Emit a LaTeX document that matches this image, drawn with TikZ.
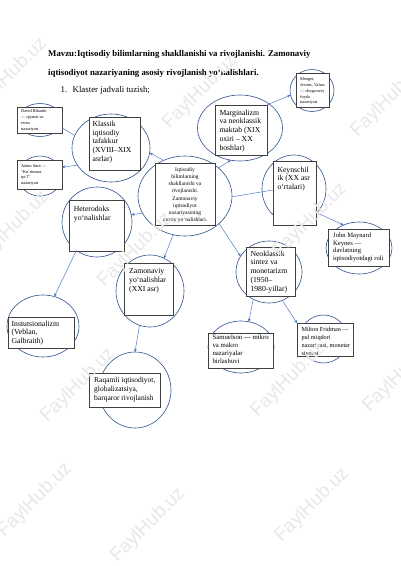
\documentclass[tikz,border=0pt]{standalone}
\usepackage{fontspec}
\setmainfont{Liberation Serif}
\newfontfamily\wmfont{Liberation Sans}
\usetikzlibrary{shapes.geometric,arrows.meta}
\definecolor{ringc}{HTML}{2F528F}
\definecolor{arrc}{HTML}{4472C4}
\begin{document}
\begin{tikzpicture}[x=1pt,y=-1pt,
  ring/.style={ellipse, draw=ringc, line width=0.6pt, inner sep=0pt, outer sep=0pt},
  bx/.style={draw=black!75, line width=0.5pt, fill=white, inner sep=0pt, outer sep=0pt},
  txt/.style={inner sep=0pt, align=left, anchor=north west},
  big/.style={font=\fontsize{7.7}{8.8}\selectfont},
  tiny/.style={font=\fontsize{4.3}{5.9}\selectfont},
  con/.style={draw=arrc, line width=0.45pt, -{Stealth[length=3.2pt,width=2.8pt]}},
  conp/.style={draw=arrc, line width=0.45pt},
  wm/.style={font=\wmfont\fontsize{19}{19}\selectfont, text=gray!18, rotate=45, inner sep=0pt},
  ttl/.style={inner sep=0pt, anchor=base west, font=\bfseries\fontsize{8.8}{10}\selectfont},
  ttn/.style={inner sep=0pt, anchor=base west, font=\fontsize{8.8}{10}\selectfont}]
\fill[white] (0,0) rectangle (400,566);
\useasboundingbox (0,0) rectangle (400,566);

% title
\node[ttl] (t1) at (48,56) {Mavzu:Iqtisodiy bilimlarning shakllanishi va rivojlanishi. Zamonaviy};
\node[ttl] (t2) at (48,75) {iqtisodiyot nazariyaning asosiy rivojlanish yo‘nalishlari.};
\node[ttn] (t3n) at (60.5,92) {1.};
\node[ttn] (t3) at (72.5,92) {Klaster jadvali tuzish;};

% circles
\node[ring, minimum width=94pt, minimum height=80pt] (cen) at (185,196) {};
\node[ring, minimum width=78pt, minimum height=68pt] (kla) at (111,148) {};
\node[ring, minimum width=44pt, minimum height=33pt] (dav) at (40,120) {};
\node[ring, minimum width=44pt, minimum height=40pt] (ada) at (40,176) {};
\node[ring, minimum width=85pt, minimum height=66pt] (mar) at (240,128) {};
\node[ring, minimum width=44pt, minimum height=42pt] (men) at (312,90.5) {};
\node[ring, minimum width=64pt, minimum height=68pt] (key) at (294,189) {};
\node[ring, minimum width=66pt, minimum height=52pt] (kes) at (359,248) {};
\node[ring, minimum width=70pt, minimum height=70pt] (het) at (97,222) {};
\node[ring, minimum width=68pt, minimum height=72pt] (zam) at (150,291) {};
\node[ring, minimum width=72pt, minimum height=62pt] (ins) at (43,326) {};
\node[ring, minimum width=72pt, minimum height=76pt] (raq) at (135,390) {};
\node[ring, minimum width=66pt, minimum height=62pt] (neo) at (269,272) {};
\node[ring, minimum width=66pt, minimum height=52pt] (sam) at (241,347) {};
\node[ring, minimum width=48pt, minimum height=48pt] (mil) at (323.5,339) {};

% boxes
\node[bx, minimum width=60pt, minimum height=62pt] (cenb) at (185,194) {};
\node[bx, minimum width=51pt, minimum height=53pt] (klab) at (114.5,143.5) {};
\node[bx, minimum width=45pt, minimum height=26pt] (davb) at (39.5,120) {};
\node[bx, minimum width=45pt, minimum height=29pt] (adab) at (39.5,174.5) {};
\node[bx, minimum width=52pt, minimum height=50pt] (marb) at (241,130) {};
\node[bx, minimum width=33pt, minimum height=34pt] (menb) at (312.5,90) {};
\node[bx, minimum width=43pt, minimum height=64pt] (keyb) at (294.5,193) {};
\node[bx, minimum width=61pt, minimum height=37pt] (kesb) at (358.5,247.5) {};
\node[bx, minimum width=55pt, minimum height=51pt] (hetb) at (96.5,225.5) {};
\node[bx, minimum width=49pt, minimum height=52pt] (zamb) at (148.5,289) {};
\node[bx, minimum width=66pt, minimum height=31pt] (insb) at (41,332.5) {};
\node[bx, minimum width=71pt, minimum height=34pt] (raqb) at (124.5,390) {};
\node[bx, minimum width=49pt, minimum height=49pt] (neob) at (270.5,271.5) {};
\node[bx, minimum width=65pt, minimum height=35pt] (samb) at (240.5,350.5) {};
\node[bx, minimum width=56pt, minimum height=33pt] (milb) at (325,339.5) {};

% connectors
\draw[con] (cen.121.4) -- (kla.-7.3);
\draw[conp] (kla.161.6) -- (davb.-19.6);
\draw[con] (kla.207.3) -- (adab.18.4);
\draw[con] (cen.40.3) -- (mar.254.7);
\draw[con] (marb.north east) -- (men.192);
\draw[conp] (cen.-1) -- (keyb.172);
\draw[con] (key.-46) -- (kes.124.2);
\draw[con] (cen.202.9) -- (het.12.5);
\draw[con] (cen.253.7) -- (zam.67);
\draw[con] (het.234) -- (ins.69.4);
\draw[con] (zam.253.4) -- (raq.90);
\draw[con] (cen.-39.3) -- (neo.151.3);
\draw[con] (neo.240.3) -- (sam.73.3);
\draw[con] (neo.-65) -- (milb.north west);

% texts
\node[inner sep=0pt, align=center, anchor=north, font=\fontsize{5.5}{7.2}\selectfont] (cent) at ([shift={(0,4.2)}]cenb.north) {Iqtisodiy\\bilimlarning\\shakllanishi va\\rivojlanishi.\\Zamonaviy\\iqtisodiyot\\nazariyasining\\asosiy yo‘nalishlari.};
\node[txt, big] (klat) at ([shift={(3.4,3.8)}]klab.north west) {Klassik\\iqtisodiy\\tafakkur\\(XVIII–XIX\\asrlar)};
\node[txt, tiny] (davt) at ([shift={(4,2.6)}]davb.north west) {David Rikardo\\— qiymat va\\renta\\nazariyasi};
\node[txt, tiny] (adat) at ([shift={(4,4)}]adab.north west) {Adam Smit —\\“Ko‘rinmas\\qo‘l”\\nazariyasi};
\node[txt, big] (mart) at ([shift={(4.3,4.5)}]marb.north west) {Marginalizm\\va neoklassik\\maktab (XIX\\oxiri – XX\\boshlar)};
\node[txt, tiny] (ment) at ([shift={(4,4.3)}]menb.north west) {Menger,\\Jevons, Valras\\— chegaraviy\\foyda\\nazariyasi};
\node[txt, big] (keyt) at ([shift={(4.3,5.5)}]keyb.north west) {Keynschil\\ik (XX asr\\o‘rtalari)};
\node[txt, font=\fontsize{6.6}{7.7}\selectfont] (kest) at ([shift={(5,3.8)}]kesb.north west) {John Maynard\\Keynes —\\davlatning\\iqtisodiyotdagi roli};
\node[txt, big] (hett) at ([shift={(4.7,5.8)}]hetb.north west) {Heterodoks\\yo‘nalishlar};
\node[txt, big] (zamt) at ([shift={(5,5.5)}]zamb.north west) {Zamonaviy\\yo‘nalishlar\\(XXI asr)};
\node[txt, big] (inst) at ([shift={(3.4,3.5)}]insb.north west) {Instutsionalizm\\(Veblan,\\Galbraith)};
\node[txt, font=\fontsize{7.5}{8.8}\selectfont] (raqt) at ([shift={(5,4.5)}]raqb.north west) {Raqamli iqtisodiyot,\\globalizatsiya,\\barqaror rivojlanish};
\node[txt, big] (neot) at ([shift={(4.3,3.5)}]neob.north west) {Neoklassik\\sintez va\\monetarizm\\(1950–\\1980-yillar)};
\node[txt, font=\fontsize{6.8}{7.7}\selectfont] (samt) at ([shift={(4.3,2)}]samb.north west) {Samuelson — mikro\\va makro\\nazariyalar\\birlashuvi};
\node[txt, font=\fontsize{6.2}{8}\selectfont] (milt) at ([shift={(4.3,4)}]milb.north west) {Milton Fridman —\\pul miqdori\\nazariyasi, monetar\\siyosat};

% watermarks
\node[wm] (w1) at (200,92) {FaylHub.uz};
\node[wm] (w2) at (388,100) {FaylHub.uz};
\node[wm] (w3) at (10,75) {FaylHub.uz};
\node[wm] (w4) at (12,228) {FaylHub.uz};
\node[wm] (w5) at (135,250) {FaylHub.uz};
\node[wm] (w6) at (310,220) {FaylHub.uz};
\node[wm] (w7) at (78,385) {FaylHub.uz};
\node[wm] (w8) at (288,380) {FaylHub.uz};
\node[wm] (w9) at (400,375) {FaylHub.uz};
\node[wm] (w10) at (35,500) {FaylHub.uz};
\node[wm] (w11) at (148,525) {FaylHub.uz};
\node[wm] (w12) at (312,505) {FaylHub.uz};
\end{tikzpicture}
\end{document}
